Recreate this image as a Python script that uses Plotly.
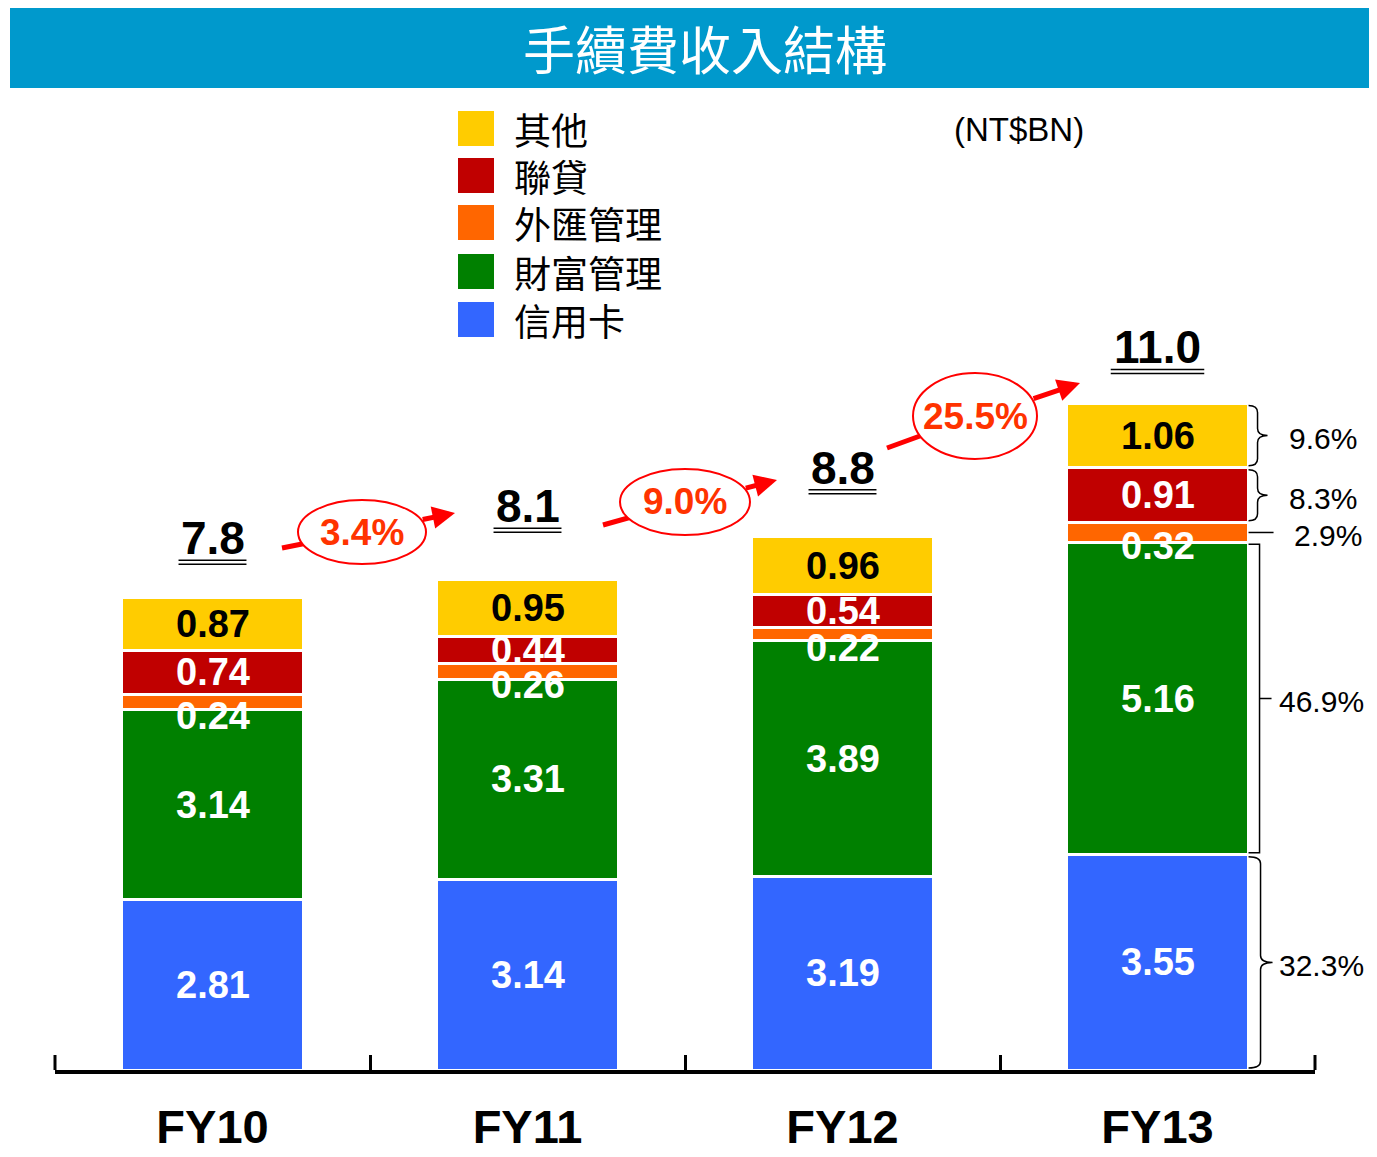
import plotly.graph_objects as go

# ---- data ----
years = ["FY10", "FY11", "FY12", "FY13"]
credit_card = [2.81, 3.14, 3.19, 3.55]
wealth_mgmt = [3.14, 3.31, 3.89, 5.16]
fx_mgmt = [0.24, 0.26, 0.22, 0.32]
syndicated = [0.74, 0.44, 0.54, 0.91]
others = [0.87, 0.95, 0.96, 1.06]
growth_labels = ["3.4%", "9.0%", "25.5%"]

# stacking order bottom -> top: (name, values, fill, label colour)
series = [
    ("信用卡", credit_card, "#3366FF", "white"),
    ("財富管理", wealth_mgmt, "#008000", "white"),
    ("外匯管理", fx_mgmt, "#FF6600", "white"),
    ("聯貸", syndicated, "#C00000", "white"),
    ("其他", others, "#FFCC00", "black"),
]
totals = [round(sum(v), 2) for v in zip(credit_card, wealth_mgmt, fx_mgmt, syndicated, others)]

# ---- layout geometry (page pixels; page body has an 8px margin) ----
OFF = 8
W, H = 1377 - OFF, 1157 - OFF
L, R, T, B = 55 - OFF, 62, 0, 87
PLOT_W, PLOT_H = W - L - R, H - T - B
AXIS_Y = OFF + T + PLOT_H          # page y of the x axis (1070)
PX_PER_UNIT = 60.6
Y_MAX = PLOT_H / PX_PER_UNIT
BARGAP = 0.422
CAT_PX = PLOT_W / len(years)

FONT = "Liberation Sans, Arial, sans-serif"
CJK = "Noto Sans CJK TC, sans-serif"


def px(x):
    return (x - OFF - L) / PLOT_W


def py(y):
    return (AXIS_Y - y) / PLOT_H


def dx(p):
    return p / CAT_PX


def dy(p):
    return p / PX_PER_UNIT


fig = go.Figure()
for name, vals, color, _ in series:
    fig.add_trace(go.Bar(
        x=years, y=vals, name=name,
        marker=dict(color=color, line=dict(color="white", width=3)),
        showlegend=False, hoverinfo="x+y+name"
    ))

annotations = []
shapes = []

# segment value labels
base = [0.0] * len(years)
for name, vals, color, tcolor in series:
    for i, v in enumerate(vals):
        annotations.append(dict(
            x=i, y=base[i] + v / 2, xref="x", yref="y",
            xanchor="center", yanchor="middle",
            text=f"<b>{v:.2f}</b>", showarrow=False,
            yshift=-14 if name == "外匯管理" else 0,
            font=dict(family=FONT, size=38, color=tcolor)
        ))
        base[i] += v

# totals with double underline
total_lift = [59, 73, 69, 56]
for i, tot in enumerate(totals):
    txt = f"{tot:.1f}"
    annotations.append(dict(
        x=i, y=tot, xref="x", yref="y", xanchor="center", yanchor="middle",
        text=f"<b>{txt}</b>", showarrow=False,
        yshift=total_lift[i], font=dict(family=FONT, size=46, color="black")
    ))
    w = 46 * sum(0.278 if c == "." else 0.556 for c in txt) + 4
    for off in (total_lift[i] - 22, total_lift[i] - 26):
        shapes.append(dict(
            type="line", xref="x", yref="y", xsizemode="pixel", ysizemode="pixel",
            xanchor=i, yanchor=tot, x0=-w / 2, x1=w / 2, y0=off, y1=off,
            line=dict(color="black", width=1.5)
        ))

# growth arrows with ellipses (pixel geometry)
arrows = [
    dict(start=(282, 548), tip=(455, 513), c=(362, 532), a=64, b=32),
    dict(start=(603, 525), tip=(777, 480), c=(685, 502), a=65, b=33),
    dict(start=(887, 448), tip=(1080, 383), c=(975, 416), a=62, b=43),
]
for lab, ar in zip(growth_labels, arrows):
    (sx, sy), (ex, ey), (cx, cy) = ar["start"], ar["tip"], ar["c"]
    a, b = ar["a"], ar["b"]
    shapes.append(dict(
        type="line", xref="paper", yref="paper",
        x0=px(sx), y0=py(sy), x1=px(cx), y1=py(cy),
        line=dict(color="#FF0000", width=5)
    ))
    shapes.append(dict(
        type="circle", xref="paper", yref="paper",
        x0=px(cx - a), x1=px(cx + a), y0=py(cy + b), y1=py(cy - b),
        fillcolor="white", line=dict(color="#FF0000", width=2)
    ))
    # exit point of the arrow line from the ellipse
    ux, uy = ex - sx, ey - sy
    qa = (ux / a) ** 2 + (uy / b) ** 2
    qb = 2 * ((sx - cx) * ux / a ** 2 + (sy - cy) * uy / b ** 2)
    qc = ((sx - cx) / a) ** 2 + ((sy - cy) / b) ** 2 - 1
    t = (-qb + (qb * qb - 4 * qa * qc) ** 0.5) / (2 * qa)
    tx, ty = sx + t * ux, sy + t * uy
    annotations.append(dict(
        x=px(ex), y=py(ey), xref="paper", yref="paper", text="",
        showarrow=True, ax=tx - ex, ay=ty - ey, arrowhead=2, arrowsize=0.9,
        arrowwidth=5, arrowcolor="#FF0000", standoff=0
    ))
    annotations.append(dict(
        x=px(cx), y=py(cy), xref="paper", yref="paper",
        xanchor="center", yanchor="middle", text=f"<b>{lab}</b>",
        showarrow=False, font=dict(family=FONT, size=37, color="#FF3300")
    ))

# FY13 share braces and labels
last = len(years) - 1
x0 = last + (1 - BARGAP) / 2
bar_center_px = OFF + L + (last + 0.5) * CAT_PX
edges = [0.0]
for _, vals, _, _ in series:
    edges.append(edges[-1] + vals[last])
label_px = {"信用卡": 1277, "財富管理": 1277, "外匯管理": 1292, "聯貸": 1287, "其他": 1287}


def brace(yb, yt, w, tip):
    ym = (yb + yt) / 2
    xa, xt = x0 + dx(w), x0 + dx(w + tip)
    r = min(dy(7), (yt - yb) / 4)
    return (f"M{x0},{yt} Q{xa},{yt} {xa},{yt - r} L{xa},{ym + r} "
            f"Q{xa},{ym} {xt},{ym} Q{xa},{ym} {xa},{ym - r} "
            f"L{xa},{yb + r} Q{xa},{yb} {x0},{yb}")


for k, (name, vals, _, _) in enumerate(series):
    yb, yt = edges[k] + dy(2), edges[k + 1] - dy(2)
    ym = (edges[k] + edges[k + 1]) / 2
    if name == "外匯管理":
        path = f"M{x0},{ym} L{x0 + dx(25)},{ym}"
    elif name == "財富管理":
        xa = x0 + dx(11)
        path = f"M{x0},{yt} L{xa},{yt} L{xa},{yb} L{x0},{yb} M{xa},{ym} L{xa + dx(12)},{ym}"
    elif name == "信用卡":
        path = brace(yb, yt, 12, 12)
    else:
        path = brace(yb, yt, 9, 10)
    shapes.append(dict(type="path", xref="x", yref="y", path=path,
                       line=dict(color="black", width=1.5)))
    share = vals[last] / totals[last] * 100
    annotations.append(dict(
        x=last, y=ym, xref="x", yref="y", xanchor="left", yanchor="middle",
        xshift=label_px[name] - bar_center_px,
        yshift=-3, text=f"{share:.1f}%", showarrow=False,
        font=dict(family=FONT, size=30, color="black")
    ))

# outer axis ticks (the inner ones come from the axis itself)
for xp in (0, 1):
    shapes.append(dict(type="line", xref="paper", yref="paper",
                       x0=xp, x1=xp, y0=py(AXIS_Y), y1=py(AXIS_Y - 15),
                       line=dict(color="black", width=3)))

# title bar
shapes.append(dict(type="rect", xref="paper", yref="paper", layer="below",
                   x0=px(10), x1=px(1390), y0=py(88), y1=py(5),
                   fillcolor="#0099CC", line=dict(width=0)))
annotations.append(dict(x=px(705), y=py(48), xref="paper", yref="paper",
                        xanchor="center", yanchor="middle",
                        text="手續費收入結構", showarrow=False,
                        font=dict(family=CJK, size=52, color="white")))

# manual legend (top item first)
leg_top = [111, 158, 205, 254, 302]
for top, (name, _, color, _) in zip(leg_top, reversed(series)):
    shapes.append(dict(type="rect", xref="paper", yref="paper",
                       x0=px(458), x1=px(494), y0=py(top + 35), y1=py(top),
                       fillcolor=color, line=dict(width=0)))
    annotations.append(dict(x=px(512), y=py(top + 18), xref="paper", yref="paper",
                            xanchor="left", yanchor="middle", text=name, showarrow=False,
                            font=dict(family=CJK, size=37, color="black")))

annotations.append(dict(x=px(1019), y=py(130), xref="paper", yref="paper",
                        xanchor="center", yanchor="middle",
                        text="(NT$BN)", showarrow=False,
                        font=dict(family=FONT, size=33, color="black")))

fig.update_layout(
    width=W, height=H,
    margin=dict(l=L, r=R, t=T, b=B),
    barmode="stack", bargap=BARGAP,
    paper_bgcolor="white", plot_bgcolor="white",
    showlegend=False,
    shapes=shapes, annotations=annotations,
    xaxis=dict(
        range=[-0.5, 3.5], showgrid=False, zeroline=False, automargin=False,
        showline=True, linewidth=4, linecolor="black",
        ticks="inside", tickson="boundaries", ticklen=15, tickwidth=3, tickcolor="black",
        tickfont=dict(family=FONT, size=47, color="black", weight="bold"),
        ticklabelstandoff=13,
    ),
    yaxis=dict(range=[0, Y_MAX], visible=False, automargin=False),
)

fig.write_html("out.html")
